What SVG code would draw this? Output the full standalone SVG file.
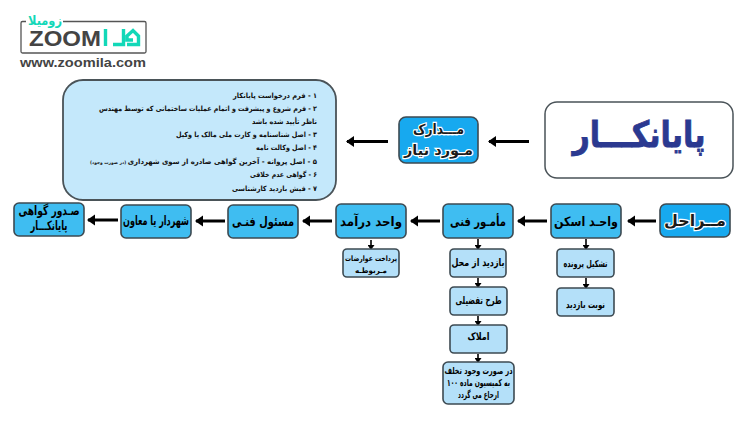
<svg xmlns="http://www.w3.org/2000/svg" width="750" height="430" viewBox="0 0 750 430">
<style>
text{font-family:"DejaVu Sans","Noto Sans",sans-serif;font-weight:bold;fill:#000;text-anchor:middle;direction:rtl}
.box{stroke:#3d4a52;stroke-width:1.6}
.main{fill:#3fbdf1}
.head{fill:#17a9ef}
.sub{fill:#b4e0f9}
.h{font-size:13px}
.s{font-size:9.500px}
.halo{fill:#1a1a1a;stroke:#fff;stroke-width:2.4px;paint-order:stroke;font-size:14px}
.doc{font-size:7.200px;text-anchor:end;fill:#111}
.a{fill:none;stroke:#000}
.big{stroke-width:3;marker-end:url(#bigA)}
.small{stroke-width:1.6;marker-end:url(#smallA)}
.lat{direction:ltr;font-family:"Liberation Sans",sans-serif;fill:#444}
</style>
<defs>
<marker id="bigA" markerUnits="userSpaceOnUse" markerWidth="10" markerHeight="12" refX="7" refY="6" orient="auto"><path d="M0 0.500L8 6L0 11.500Z" fill="#000"/></marker>
<marker id="smallA" markerUnits="userSpaceOnUse" markerWidth="6" markerHeight="7" refX="3" refY="3.500" orient="auto"><path d="M0 0L5 3.500L0 7Z" fill="#000"/></marker>
</defs>
<rect width="750" height="430" fill="#fff"/>
<g id="logo">
<path d="M26 21.500H22.500Q21 21.500 21 23V51.500Q21 53 22.500 53H144.500Q146 53 146 51.500V23Q146 21.500 144.500 21.500H63" fill="none" stroke="#555" stroke-width="1.300"/>
<text x="45" y="25" textLength="34" lengthAdjust="spacingAndGlyphs" style="font-size:13px;fill:#12d8b8">زومیلا</text>
<text class="lat" x="65" y="45.500" textLength="72" lengthAdjust="spacingAndGlyphs" style="font-size:21.500px">ZOOM</text>
<path d="M105.500 29V46M113 44.500H123.500V29M127 44.500H138.500V36L133 30.500L127 36V40H133" fill="none" stroke="#12d8b8" stroke-width="3.400"/>
<text class="lat" x="83" y="67" textLength="126" lengthAdjust="spacingAndGlyphs" style="font-size:13.500px">www.zoomila.com</text>
</g>
<g id="connectors">
<path class="a big" d="M529 141.500H489"/>
<path class="a big" d="M388 141.500H347"/>
<path class="a big" d="M656 221H628"/>
<path class="a big" d="M547 221H518"/>
<path class="a big" d="M440 221H411"/>
<path class="a big" d="M332 221H303"/>
<path class="a big" d="M225 221H196"/>
<path class="a big" d="M118 220H88"/>
<path class="a small" d="M371 240V248"/>
<path class="a small" d="M478 239V248"/>
<path class="a small" d="M478 278V286"/>
<path class="a small" d="M478 316V324"/>
<path class="a small" d="M478 354V361"/>
<path class="a small" d="M586 239V248"/>
<path class="a small" d="M586 278V287"/>
</g>
<g id="documents">
<rect x="63" y="80" width="273" height="120" rx="20" fill="#c4e8fb" stroke="#4a5358" stroke-width="1.800"/>
<text class="doc" x="233" y="98" textLength="84" lengthAdjust="spacingAndGlyphs">۱ - فرم درخواست پایانکار</text>
<text class="doc" x="99" y="111" textLength="218" lengthAdjust="spacingAndGlyphs">۲ - فرم شروع و پیشرفت و اتمام عملیات ساختمانی که توسط مهندس</text>
<text class="doc" x="252" y="124" textLength="65" lengthAdjust="spacingAndGlyphs">ناظر تأیید شده باشد</text>
<text class="doc" x="176" y="137" textLength="141" lengthAdjust="spacingAndGlyphs">۳ - اصل شناسنامه و کارت ملی مالک یا وکیل</text>
<text class="doc" x="256" y="150" textLength="61" lengthAdjust="spacingAndGlyphs">۴ - اصل وکالت نامه</text>
<text class="doc" x="90" y="164" textLength="227" lengthAdjust="spacingAndGlyphs">۵ - اصل پروانه - آخرین گواهی صادره از سوی شهرداری<tspan style="font-size:4.500px"> (در صورت وجود)</tspan></text>
<text class="doc" x="250" y="177" textLength="67" lengthAdjust="spacingAndGlyphs">۶ - گواهی عدم خلافی</text>
<text class="doc" x="232" y="191" textLength="85" lengthAdjust="spacingAndGlyphs">۷ - فیش بازدید کارشناسی</text>
</g>
<g id="madarek">
<rect class="box head" x="399" y="117" width="79" height="46" rx="7"/>
<text class="halo" x="438.500" y="134" textLength="51" lengthAdjust="spacingAndGlyphs">مـــدارک</text>
<text class="halo" x="438.500" y="155" textLength="69" lengthAdjust="spacingAndGlyphs">مـورد نیاز</text>
</g>
<g id="payankar">
<rect x="545" y="102" width="188" height="76" rx="12" fill="#fff" stroke="#4a5358" stroke-width="1.500"/>
<text x="639" y="147" textLength="133" lengthAdjust="spacingAndGlyphs" style="font-size:36px;fill:#2b3990;stroke:#2b3990;stroke-width:0.800px">پایانکـــار</text>
</g>
<g id="marahel">
<rect class="box head" x="660" y="204" width="70" height="33" rx="6"/>
<text class="halo" x="695" y="226" textLength="62" lengthAdjust="spacingAndGlyphs" style="font-size:16px">مــراحل</text>
</g>
<g id="eskan">
<rect class="box main" x="551" y="204" width="70" height="34" rx="5"/>
<text class="h" x="586" y="226" textLength="64" lengthAdjust="spacingAndGlyphs">واحـد اسکن</text>
</g>
<g id="mamur">
<rect class="box main" x="443" y="204" width="70" height="34" rx="5"/>
<text class="h" x="478" y="226" textLength="56" lengthAdjust="spacingAndGlyphs">مأمـور فنی</text>
</g>
<g id="daramad">
<rect class="box main" x="336" y="204" width="70" height="34" rx="5"/>
<text class="h" x="371" y="226" textLength="62" lengthAdjust="spacingAndGlyphs">واحد درآمد</text>
</g>
<g id="masoul">
<rect class="box main" x="228" y="205" width="70" height="33" rx="5"/>
<text class="h" x="263" y="226" textLength="62" lengthAdjust="spacingAndGlyphs">مسئول فنـی</text>
</g>
<g id="shahrdar">
<rect class="box main" x="121" y="205" width="70" height="33" rx="5"/>
<text class="h" x="156" y="225" textLength="66" lengthAdjust="spacingAndGlyphs">شهردار یا معاون</text>
</g>
<g id="sodur">
<rect class="box main" x="14" y="203" width="70" height="33" rx="5"/>
<text class="h" x="49" y="215" textLength="61" lengthAdjust="spacingAndGlyphs">صـدور گواهی</text>
<text class="h" x="49" y="230" textLength="37" lengthAdjust="spacingAndGlyphs">پایانکـــار</text>
</g>
<g id="pardakht">
<rect class="box sub" x="343" y="249" width="56" height="28" rx="4"/>
<text class="s" x="371" y="261" textLength="52" lengthAdjust="spacingAndGlyphs" style="font-size:7.500px">پرداخت عوارضات</text>
<text class="s" x="371" y="273" textLength="32" lengthAdjust="spacingAndGlyphs" style="font-size:7.500px">مـربوطـه</text>
</g>
<g id="bazdid">
<rect class="box sub" x="450" y="249" width="56" height="28" rx="4"/>
<text class="s" x="478" y="266" textLength="53" lengthAdjust="spacingAndGlyphs" style="font-size:10.500px">بازدید از محل</text>
</g>
<g id="tarh">
<rect class="box sub" x="450" y="287" width="57" height="28" rx="4"/>
<text class="s" x="478.500" y="304" textLength="46" lengthAdjust="spacingAndGlyphs" style="font-size:10.500px">طرح تفضیلی</text>
</g>
<g id="amlak">
<rect class="box sub" x="450" y="325" width="57" height="28" rx="4"/>
<text class="s" x="478.500" y="340" textLength="22" lengthAdjust="spacingAndGlyphs" style="font-size:10.500px">املاک</text>
</g>
<g id="takhalof">
<rect class="box sub" x="443" y="362" width="71" height="42" rx="5"/>
<text class="s" x="478.500" y="374" textLength="68" lengthAdjust="spacingAndGlyphs">در صورت وجود تخلف</text>
<text class="s" x="478.500" y="386" textLength="63" lengthAdjust="spacingAndGlyphs">به کمیسیون ماده ۱۰۰</text>
<text class="s" x="478.500" y="398" textLength="41" lengthAdjust="spacingAndGlyphs">ارجاع می گردد</text>
</g>
<g id="tashkil">
<rect class="box sub" x="557" y="249" width="57" height="28" rx="4"/>
<text class="s" x="585.500" y="267" textLength="44" lengthAdjust="spacingAndGlyphs">تشکیل پرونده</text>
</g>
<g id="nobat">
<rect class="box sub" x="557" y="288" width="57" height="28" rx="4"/>
<text class="s" x="585.500" y="308" textLength="39" lengthAdjust="spacingAndGlyphs">نوبت بازدید</text>
</g>
</svg>
